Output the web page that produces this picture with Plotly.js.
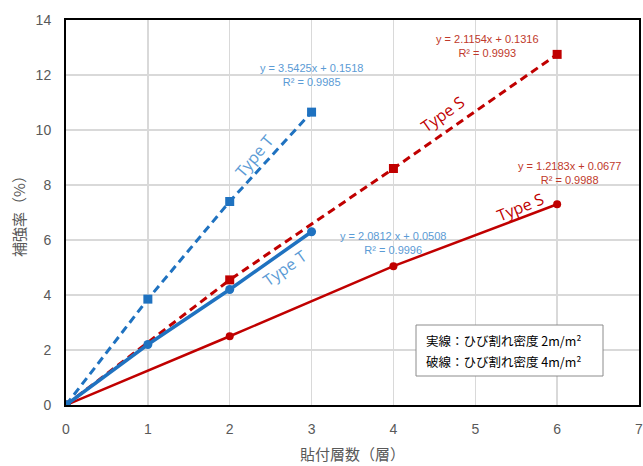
<!DOCTYPE html>
<html><head><meta charset="utf-8">
<script src="https://cdn.plot.ly/plotly-3.0.1.min.js"></script>
<style>body{margin:0;background:#fff}#c{width:643px;height:466px}</style>
</head><body><div id="c"></div>
<script>
const layersT = [0, 1, 2, 3];
const layersS = [0, 2, 4, 6];
const typeT2 = [0, 2.2, 4.2, 6.3];
const typeT4 = [0, 3.85, 7.4, 10.65];
const typeS2 = [0, 2.5, 5.05, 7.3];
const typeS4 = [0, 4.55, 8.6, 12.75];
const xTicks = [0, 1, 2, 3, 4, 5, 6, 7];
const yTicks = [0, 2, 4, 6, 8, 10, 12, 14];
const noteLines = ['実線：ひび割れ密度 2m/m²', '破線：ひび割れ密度 4m/m²'];

const BLUE = '#1f72c0', RED = '#c00000', LBLUE = '#5b9bd5', LRED = '#c0392b';
const JP = '"Noto Sans CJK JP", "Noto Sans", sans-serif';

const traces = [
  {x: layersS, y: typeS2, mode: 'lines+markers', line: {color: RED, width: 2.5}, marker: {symbol: 'circle', size: 8, color: RED}},
  {x: layersS, y: typeS4, mode: 'lines+markers', line: {color: RED, width: 3, dash: '8px,5px'}, marker: {symbol: 'square', size: 9, color: RED}},
  {x: layersT, y: typeT4, mode: 'lines+markers', line: {color: BLUE, width: 3, dash: '8px,5px'}, marker: {symbol: 'square', size: 9, color: BLUE}},
  {x: layersT, y: typeT2, mode: 'lines+markers', line: {color: BLUE, width: 3.5}, marker: {symbol: 'circle', size: 9, color: BLUE}}
];

function eq(x, y, text, color) {
  return {x: x, y: y, xref: 'x', yref: 'y', text: text, showarrow: false, font: {family: 'Liberation Sans, Arial, sans-serif', size: 11, color: color}, align: 'center'};
}
function lbl(x, y, text, color, angle) {
  return {x: x, y: y, xref: 'x', yref: 'y', text: text, showarrow: false, textangle: angle, font: {family: '"Open Sans", sans-serif', size: 16, color: color}};
}

const pw = 643 - 66 - 4, ph = 466 - 20 - 61;
const px = v => (v - 66) / pw, py = v => (405 - v) / ph;

const annotations = [
  eq(3.0, 12.0, 'y = 3.5425x + 0.1518<br>R² = 0.9985', LBLUE),
  eq(5.15, 13.05, 'y = 2.1154x + 0.1316<br>R² = 0.9993', LRED),
  eq(6.15, 8.45, 'y = 1.2183x + 0.0677<br>R² = 0.9988', LRED),
  eq(4.0, 5.9, 'y = 2.0812 x + 0.0508<br>R² = 0.9996', LBLUE),
  lbl(2.3, 9.05, 'Type T', LBLUE, -50),
  lbl(4.6, 10.6, 'Type S', RED, -35),
  lbl(2.67, 5.0, 'Type T', LBLUE, -35),
  lbl(5.55, 7.2, 'Type S', RED, -22)
];
noteLines.forEach((t, i) => annotations.push({
  x: px(425), y: py(340 + i * 21), xref: 'paper', yref: 'paper', xanchor: 'left', yanchor: 'middle',
  text: t, showarrow: false, font: {family: JP, size: 12.5, color: '#000'}, borderpad: 0
}));

const layout = {
  width: 643, height: 466,
  margin: {l: 66, r: 4, t: 20, b: 61},
  paper_bgcolor: '#fff', plot_bgcolor: '#fff',
  showlegend: false,
  xaxis: {range: [0, 7], tickvals: xTicks, ticktext: xTicks.map(String), showgrid: true, gridcolor: '#d9d9d9', gridwidth: 1.5,
    showline: true, mirror: true, linecolor: '#000', linewidth: 2, zeroline: false, ticks: '', ticklabelstandoff: 10,
    ticklabeloverflow: 'allow',
    tickfont: {family: 'Liberation Sans, Arial, sans-serif', size: 14, color: '#595959'},
    title: {text: '貼付層数（層）', font: {family: JP, size: 15, color: '#595959'}, standoff: 14}},
  yaxis: {range: [0, 14], tickvals: yTicks, ticktext: yTicks.map(String), showgrid: true, gridcolor: '#d9d9d9', gridwidth: 1.5,
    showline: true, mirror: true, linecolor: '#000', linewidth: 2, zeroline: false, ticks: '', ticklabelstandoff: 10,
    tickfont: {family: 'Liberation Sans, Arial, sans-serif', size: 14, color: '#595959'},
    title: {text: '補強率（%）', font: {family: JP, size: 15, color: '#595959'}, standoff: 6}},
  shapes: [{type: 'rect', xref: 'paper', yref: 'paper', x0: px(416), x1: px(603), y0: py(376), y1: py(325),
    line: {color: '#8c8c8c', width: 1}, fillcolor: '#fff', layer: 'above'}],
  annotations: annotations
};
Plotly.newPlot('c', traces, layout, {displayModeBar: false, staticPlot: true});
</script></body></html>
